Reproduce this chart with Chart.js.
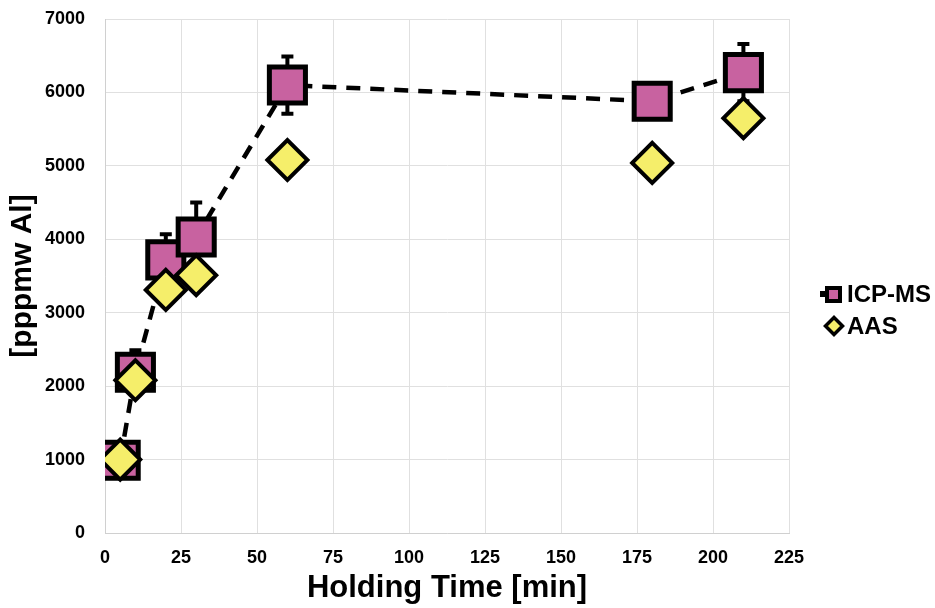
<!DOCTYPE html>
<html>
<head>
<meta charset="utf-8">
<script src="https://cdn.jsdelivr.net/npm/chart.js@4"></script>
<style>
  html, body { margin: 0; padding: 0; background: #fff; }
  #wrap { width: 935px; height: 608px; }
</style>
</head>
<body>
<div id="wrap"><canvas id="c" width="935" height="608"></canvas></div>
<script>
// Holding time (min) and Al content measured by two methods
const holdingTime = [5, 10, 20, 30, 60, 180, 210];
const icpms = [990, 2190, 3720, 4030, 6100, 5880, 6270];
const icpmsErr = [150, 300, 350, 470, 390, 150, 390];
const aas = [1000, 2080, 3310, 3510, 5080, 5040, 5650];
const xTicks = [0, 25, 50, 75, 100, 125, 150, 175, 200, 225];
const seriesNames = ['ICP-MS', 'AAS'];

const pink = '#C862A0';
const yellow = '#F5EE6A';
const font = "'Liberation Sans', Arial, sans-serif";

// vertical error bars with caps for the ICP-MS series, drawn beneath the markers
const errorBars = {
  id: 'errorBars',
  beforeDatasetsDraw(chart) {
    const { ctx, scales: { x, y } } = chart;
    ctx.save();
    ctx.strokeStyle = '#000';
    ctx.lineWidth = 4;
    holdingTime.forEach((t, i) => {
      const px = x.getPixelForValue(t);
      const top = y.getPixelForValue(icpms[i] + icpmsErr[i]);
      const bot = y.getPixelForValue(icpms[i] - icpmsErr[i]);
      ctx.beginPath();
      ctx.moveTo(px, top); ctx.lineTo(px, bot);
      ctx.moveTo(px - 6, top); ctx.lineTo(px + 6, top);
      ctx.moveTo(px - 6, bot); ctx.lineTo(px + 6, bot);
      ctx.stroke();
    });
    ctx.restore();
  }
};

// legend at the right: line stub + square for ICP-MS, diamond for AAS
const sideLegend = {
  id: 'sideLegend',
  afterDraw(chart) {
    const { ctx, chartArea } = chart;
    const x0 = chartArea.right + 31;
    const yMid = (chartArea.top + chartArea.bottom) / 2;
    const rows = [yMid + 18, yMid + 50];
    ctx.save();
    // ICP-MS swatch
    let y = rows[0];
    ctx.fillStyle = '#000';
    ctx.fillRect(x0, y - 3, 8, 6);
    ctx.fillStyle = pink;
    ctx.strokeStyle = '#000';
    ctx.lineWidth = 4;
    ctx.fillRect(x0 + 7, y - 6, 13, 13);
    ctx.strokeRect(x0 + 7, y - 6, 13, 13);
    // AAS swatch
    y = rows[1];
    ctx.lineWidth = 3.5;
    ctx.fillStyle = yellow;
    ctx.beginPath();
    ctx.moveTo(x0 + 14, y - 8.5);
    ctx.lineTo(x0 + 22.5, y);
    ctx.lineTo(x0 + 14, y + 8.5);
    ctx.lineTo(x0 + 5.5, y);
    ctx.closePath();
    ctx.fill();
    ctx.stroke();
    // labels
    ctx.fillStyle = '#000';
    ctx.font = 'bold 24px ' + font;
    ctx.textBaseline = 'middle';
    ctx.textAlign = 'left';
    seriesNames.forEach((name, i) => ctx.fillText(name, x0 + 27, rows[i] + 1));
    ctx.restore();
  }
};

new Chart(document.getElementById('c'), {
  type: 'scatter',
  data: {
    datasets: [
      {
        label: seriesNames[0],
        data: holdingTime.map((t, i) => ({ x: t, y: icpms[i] })),
        showLine: true,
        borderColor: '#000',
        borderWidth: 4.5,
        borderDash: [14, 10],
        pointStyle: 'rect',
        pointRadius: 25.5,
        pointHoverRadius: 25.5,
        pointBackgroundColor: pink,
        pointBorderColor: '#000',
        pointBorderWidth: 5,
        order: 2
      },
      {
        label: seriesNames[1],
        data: holdingTime.map((t, i) => ({ x: t, y: aas[i] })),
        showLine: false,
        pointStyle: 'rectRot',
        pointRadius: 20,
        pointHoverRadius: 20,
        pointBackgroundColor: yellow,
        pointBorderColor: '#000',
        pointBorderWidth: 4,
        order: 1
      }
    ]
  },
  options: {
    responsive: false,
    animation: false,
    layout: { autoPadding: false, padding: { top: 19, right: 146, left: 8, bottom: 0 } },
    plugins: {
      tooltip: { enabled: false },
      legend: { display: false }
    },
    scales: {
      x: {
        type: 'linear',
        min: 0,
        max: 225,
        afterBuildTicks(axis) { axis.ticks = xTicks.map(v => ({ value: v })); },
        afterFit(scale) { scale.height = 75; },
        grid: { color: '#E0E0E0', lineWidth: 1, drawTicks: false },
        border: { color: '#D0D0D0' },
        ticks: { color: '#000', padding: 14, font: { family: font, size: 18, weight: 'bold' } },
        title: { display: true, text: 'Holding Time [min]', color: '#000', padding: { top: 0, bottom: 4 }, font: { family: font, size: 31, weight: 'bold', lineHeight: 1.0 } }
      },
      y: {
        min: 0,
        max: 7000,
        afterFit(scale) { scale.width = 97; },
        ticks: {
          stepSize: 1000,
          color: '#000',
          padding: 4,
          font: { family: font, size: 18, weight: 'bold' },
          callback: v => String(v)
        },
        grid: { color: '#E0E0E0', lineWidth: 1, drawTicks: true, tickLength: 16, tickColor: 'rgba(0,0,0,0)' },
        border: { color: '#D0D0D0' },
        title: { display: true, text: '[pppmw Al]', color: '#000', padding: { top: 0, bottom: 0 }, font: { family: font, size: 30, weight: 'bold', lineHeight: 1.0 } }
      }
    }
  },
  plugins: [errorBars, sideLegend]
});
</script>
</body>
</html>
